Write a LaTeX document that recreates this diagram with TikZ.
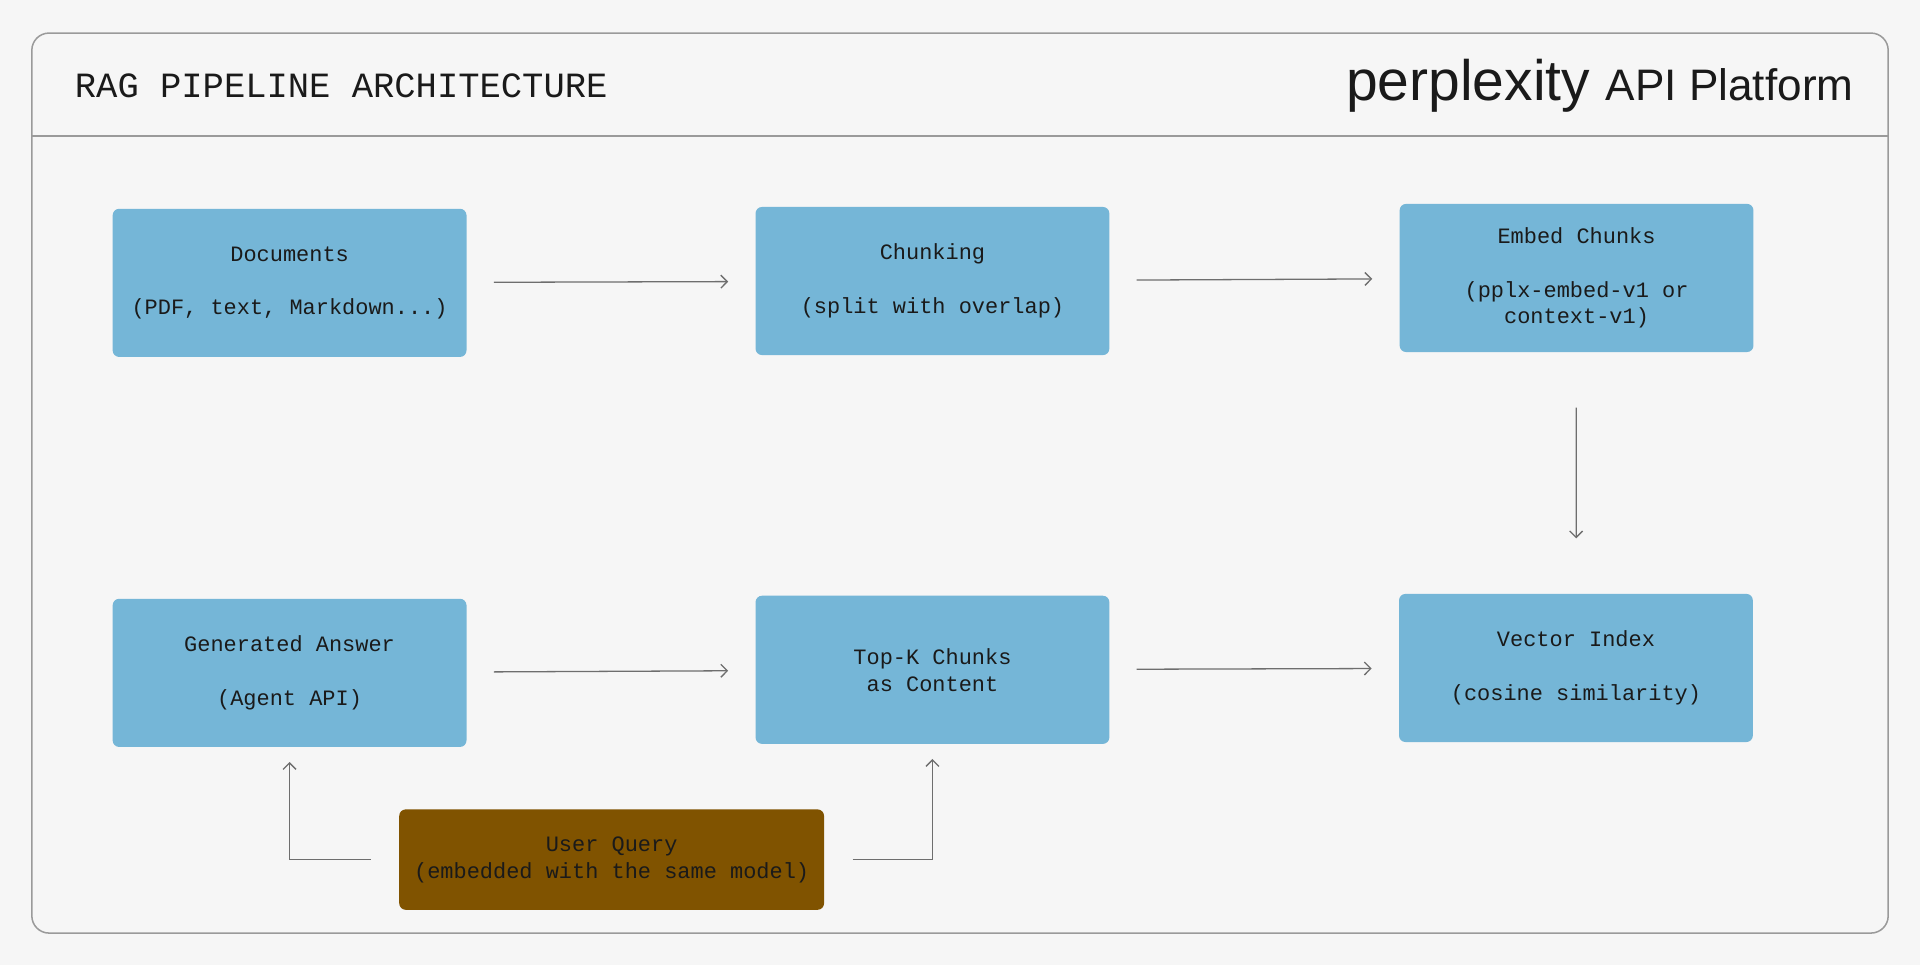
\documentclass[tikz,border=0pt]{standalone}
\usepackage{fontspec}
\setmainfont{Liberation Sans}
\newfontfamily\monofont{Liberation Mono}
\usetikzlibrary{positioning,arrows.meta}
\definecolor{pagebg}{HTML}{F6F6F6}
\definecolor{framegray}{HTML}{9A9A9A}
\definecolor{stepblue}{HTML}{75B6D7}
\definecolor{querybrown}{HTML}{805300}
\definecolor{arrowgray}{HTML}{6E6E6E}
\definecolor{inkblack}{HTML}{1A1A1A}
\tikzset{
  stagebox/.style={draw=none, fill=stepblue, rounded corners=3pt, minimum width=5.78cm,
    minimum height=2.42cm, align=center, text=inkblack,
    font=\monofont\fontsize{10.2}{12.5}\selectfont},
  querybox/.style={stagebox, fill=querybrown, minimum width=6.94cm, minimum height=1.64cm},
  flow/.style={->, >={Straight Barb[length=3pt,width=6pt]}, draw=arrowgray, line width=0.6pt,
    shorten <=0.44cm, shorten >=0.44cm}
}
\begin{document}
\begin{tikzpicture}[x=0.02cm, y=-0.02cm]
  % Page and frame
  \fill[pagebg] (0,0) rectangle (1568,788);
  \useasboundingbox (0,0) rectangle (1568,788);
  \draw[framegray, line width=0.7pt, rounded corners=8pt] (26,27) rectangle (1542,762);
  \draw[framegray, line width=0.7pt] (26,111) -- (1542,111);

  % Header
  \node[anchor=west, text=inkblack, font=\monofont\fontsize{16.5}{18}\selectfont] (title) at (55,70) {RAG PIPELINE ARCHITECTURE};
  \node[anchor=base east, text=inkblack, inner sep=0pt, font=\fontsize{20.5}{22}\selectfont] (platform) at (1514,82) {API Platform};
  \node[anchor=base east, text=inkblack, inner sep=0pt, font=\fontsize{26.5}{28}\selectfont] (brand) at (1299,82) {perplexity};

  % Top row
  \node[stagebox] (docs) at (236.5,231) {Documents\\ \\(PDF, text, Markdown...)};
  \node[stagebox] (chunk) at (761.5,229.5) {Chunking\\ \\(split with overlap)};
  \node[stagebox] (embed) at (1287.5,227) {Embed Chunks\\ \\(pplx-embed-v1 or\\context-v1)};

  % Bottom row
  \node[stagebox] (answer) at (236.5,549.5) {Generated Answer\\ \\(Agent API)};
  \node[stagebox] (topk) at (761.5,547) {Top-K Chunks\\as Content};
  \node[stagebox] (index) at (1287,545.5) {Vector Index\\ \\(cosine similarity)};

  % User query
  \node[querybox] (userq) at (499.5,702) {User Query\\(embedded with the same model)};

  % Connectors
  \draw[flow] (docs) -- (chunk);
  \draw[flow] (chunk) -- (embed);
  \draw[flow, shorten <=0.9cm, shorten >=0.9cm] (embed) -- (index);
  \draw[flow] (answer) -- (topk);
  \draw[flow] (topk) -- (index);
  \draw[flow, shorten >=0.24cm, shorten <=0.46cm] (userq.west) -| (answer.south);
  \draw[flow, shorten >=0.24cm, shorten <=0.46cm] (userq.east) -| (topk.south);
\end{tikzpicture}
\end{document}
